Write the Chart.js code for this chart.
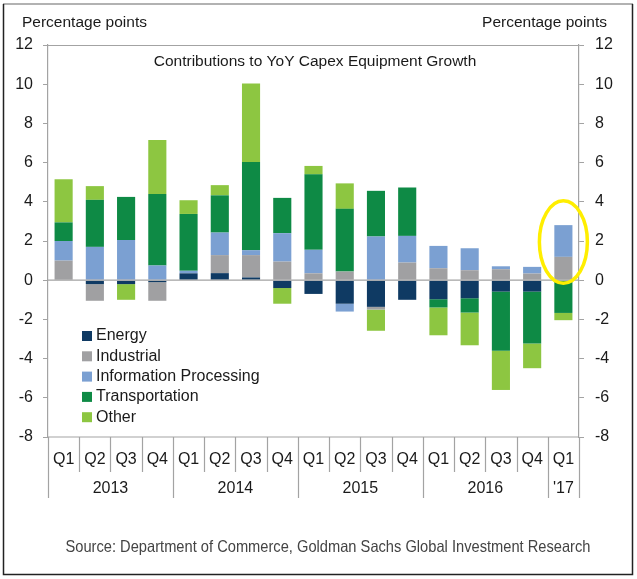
<!DOCTYPE html>
<html>
<head>
<meta charset="utf-8">
<script src="https://cdn.jsdelivr.net/npm/chart.js@4/dist/chart.umd.min.js"></script>
<style>
  body { margin: 0; background: #fff; }
  canvas { display: block; }
</style>
</head>
<body>
<canvas id="myChart" width="637" height="579"></canvas>
<script>
var quarters = ['Q1', 'Q2', 'Q3', 'Q4', 'Q1', 'Q2', 'Q3', 'Q4', 'Q1', 'Q2', 'Q3', 'Q4', 'Q1', 'Q2', 'Q3', 'Q4', 'Q1'];
var years = ['2013', '2014', '2015', '2016', "'17"];
var yearSpans = [4, 4, 4, 4, 1];

var energy = [0, -0.2, -0.2, -0.1, 0.35, 0.36, 0.14, -0.4, -0.7, -1.2, -1.36, -1.0, -0.97, -0.92, -0.58, -0.58, 0];
var industrial = [1.0, -0.85, 0, -0.95, 0, 0.92, 1.14, 0.95, 0.35, 0.44, -0.14, 0.9, 0.61, 0.51, 0.56, 0.34, 1.19];
var infoProcessing = [1.0, 1.7, 2.05, 0.75, 0.13, 1.15, 0.25, 1.45, 1.2, -0.4, 2.23, 1.36, 1.14, 1.12, 0.15, 0.34, 1.62];
var transportation = [0.95, 2.4, 2.2, 3.65, 2.9, 1.9, 4.5, 1.8, 3.85, 3.2, 2.33, 2.47, -0.42, -0.73, -3.02, -2.65, -1.67];
var other = [2.2, 0.7, -0.8, 2.75, 0.7, 0.52, 4.0, -0.8, 0.43, 1.3, -1.08, 0, -1.42, -1.67, -2.0, -1.26, -0.37];

var FONT = '"Liberation Sans", Arial, sans-serif';
var AXIS = '#a3a3a3';

var extras = {
    id: 'extras',
    afterDatasetsDraw: function (chart) {
        var c = chart.ctx, a = chart.chartArea, x = chart.scales.x, y = chart.scales.y;
        c.save();
        c.strokeStyle = AXIS;
        c.lineWidth = 1.2;
        // top and zero lines
        c.beginPath();
        c.moveTo(a.left, a.top + 0.5); c.lineTo(a.right, a.top + 0.5);
        c.moveTo(a.left, y.getPixelForValue(0)); c.lineTo(a.right, y.getPixelForValue(0));
        c.moveTo(a.left, a.bottom); c.lineTo(a.right, a.bottom);
        c.stroke();

        // category dividers
        var w = (a.right - a.left) / quarters.length;
        var yb = [0];
        yearSpans.forEach(function (s, i) { yb.push(yb[i] + s); });
        for (var i = 0; i <= quarters.length; i++) {
            var px = Math.round(a.left + i * w) + 0.5;
            var len = yb.indexOf(i) >= 0 ? 61 : 35;
            c.beginPath();
            c.moveTo(px, a.bottom); c.lineTo(px, a.bottom + len);
            c.stroke();
        }

        // x labels
        c.fillStyle = '#1a1a1a';
        c.font = '16px ' + FONT;
        c.textAlign = 'center';
        c.textBaseline = 'middle';
        quarters.forEach(function (q, i) {
            c.fillText(q, x.getPixelForValue(i), a.bottom + 23);
        });
        years.forEach(function (yr, i) {
            var mid = (yb[i] + yb[i + 1]) / 2;
            c.fillText(yr, a.left + mid * w, a.bottom + 52);
        });

        // axis headers
        c.font = '15.5px ' + FONT;
        c.textAlign = 'left';
        c.fillText('Percentage points', 22, 23);
        c.textAlign = 'right';
        c.fillText('Percentage points', 607, 23);

        // title
        c.textAlign = 'center';
        c.font = '15.5px ' + FONT;
        c.fillText('Contributions to YoY Capex Equipment Growth', 315, 62);

        // legend
        c.textAlign = 'left';
        c.font = '16px ' + FONT;
        chart.data.datasets.forEach(function (ds, i) {
            var ly = 336 + i * 20.3;
            c.fillStyle = ds.backgroundColor;
            c.fillRect(82, ly - 5, 10, 10);
            c.fillStyle = '#1a1a1a';
            c.fillText(ds.label, 96, ly);
        });

        // source, condensed to the width of the original narrow face
        var src = 'Source: Department of Commerce, Goldman Sachs Global Investment Research';
        c.fillStyle = '#444';
        c.font = '16.5px ' + FONT;
        c.textAlign = 'center';
        var k = 525 / c.measureText(src).width;
        c.save();
        c.translate(328, 547);
        c.scale(k, 1);
        c.fillText(src, 0, 0);
        c.restore();

        // highlight ellipse on latest quarter
        c.strokeStyle = '#ffee00';
        c.lineWidth = 3.5;
        var cy = y.getPixelForValue(1.95);
        var ry = y.getPixelForValue(0) - y.getPixelForValue(2.1);
        c.beginPath();
        c.ellipse(x.getPixelForValue(16), cy, 24, ry, 0, 0, Math.PI * 2);
        c.stroke();

        // outer frame
        c.lineWidth = 1.5;
        c.strokeStyle = '#999';
        c.beginPath(); c.moveTo(3, 4); c.lineTo(633, 4); c.stroke();
        c.strokeStyle = '#222';
        c.beginPath();
        c.moveTo(3.5, 4); c.lineTo(3.5, 574.5); c.lineTo(632.5, 574.5); c.lineTo(632.5, 4);
        c.stroke();
        c.restore();
    }
};

var ctx = document.getElementById('myChart').getContext('2d');
var myChart = new Chart(ctx, {
    type: 'bar',
    data: {
        labels: quarters,
        datasets: [
            { label: 'Energy', data: energy, backgroundColor: '#0f3a63' },
            { label: 'Industrial', data: industrial, backgroundColor: '#a0a0a2' },
            { label: 'Information Processing', data: infoProcessing, backgroundColor: '#7ba0d2' },
            { label: 'Transportation', data: transportation, backgroundColor: '#0e8a45' },
            { label: 'Other', data: other, backgroundColor: '#8dc641' }
        ]
    },
    options: {
        responsive: false,
        animation: false,
        layout: { padding: { left: 0, right: 0, top: 45, bottom: 142 } },
        datasets: { bar: { barPercentage: 0.58, categoryPercentage: 1 } },
        plugins: {
            legend: { display: false },
            tooltip: { enabled: false }
        },
        scales: {
            x: { stacked: true, display: false },
            y: {
                stacked: true,
                position: 'left',
                min: -8, max: 12,
                ticks: { stepSize: 2, padding: 10, color: '#1a1a1a', font: { size: 16, family: FONT } },
                grid: { drawOnChartArea: false, tickLength: 5, tickColor: AXIS },
                border: { color: AXIS, width: 1.2 },
                afterFit: function (s) { s.width = 48; }
            },
            y2: {
                position: 'right',
                min: -8, max: 12,
                ticks: { stepSize: 2, padding: 11, color: '#1a1a1a', font: { size: 16, family: FONT } },
                grid: { drawOnChartArea: false, tickLength: 5, tickColor: AXIS },
                border: { color: AXIS, width: 1.2 },
                afterFit: function (s) { s.width = 58; }
            }
        }
    },
    plugins: [extras]
});
</script>
</body>
</html>
